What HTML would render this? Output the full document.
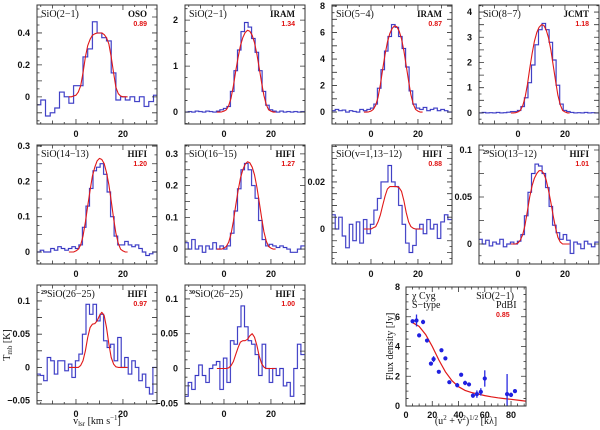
<!DOCTYPE html>
<html><head><meta charset="utf-8">
<style>
html,body{margin:0;padding:0;background:#fff;}
svg{display:block;font-family:"Liberation Sans",sans-serif;}
.tk{font-size:9px;font-weight:bold;fill:#111;}
.lab{font-size:10px;fill:#111;font-family:"Liberation Serif",serif;}
.tel{font-size:9px;fill:#111;font-family:"Liberation Serif",serif;font-weight:bold;}
.red{font-size:7px;fill:#e01010;font-weight:bold;}
</style></head>
<body>
<svg id="fig" width="600" height="430" viewBox="0 0 600 430" xmlns="http://www.w3.org/2000/svg"></svg>
<script>
// ---- data ----
const fitVel = [-3,-2,-1,0,1,2,3,4,5,6,7,8,9,10,11,12,13,14,15,16,17,18,19,20,21,22];
const p1Vals = [-0.05,-0.02,-0.12,-0.1,-0.07,0.03,0.0,-0.04,0.07,0.07,0.25,0.3,0.47,0.4,0.37,0.35,0.15,-0.02,0.0,-0.02,0.0,-0.03,0.0,-0.06,-0.03,0.01];
const p2Vals = [0.0,0.01,0.0,0.02,0.01,0.0,0.02,0.01,0.0,0.02,0.05,0.08,0.12,0.45,0.9,1.35,1.75,1.95,1.85,1.6,1.3,0.9,0.45,0.15,0.05,0.02,0.0,0.02,0.0,0.01,0.0,0.01,0.0,0.01];
const p3Vals = [0.1,0.2,0.1,0.15,0.0,0.1,0.05,0.0,0.2,0.1,0.2,0.3,0.6,1.8,3.2,4.6,5.7,6.6,6.4,5.7,4.8,3.4,1.6,0.6,0.3,0.2,0.35,0.1,0.2,0.3,0.1,0.2,0.1,0.0];
const p4Vals = [0.0,0.02,0.0,0.01,0.0,0.02,0.0,0.01,0.03,0.05,0.05,0.1,0.25,0.6,1.2,1.9,2.7,3.3,3.55,3.3,2.8,2.1,1.1,0.35,0.1,0.05,0.02,0.0,0.01,0.0,0.02,0.0,0.01,0.0];
const p5Vals = [0.0,0.005,0.0,0.0,0.01,0.005,0.015,0.01,0.005,0.01,0.015,0.01,0.02,0.07,0.13,0.18,0.23,0.24,0.25,0.22,0.17,0.1,0.045,0.02,0.02,0.03,0.02,0.015,0.02,0.01,0.0,-0.01,-0.005,0.0];
const p6Vals = [0.02,0.0,0.03,0.0,0.01,-0.01,0.01,0.0,0.02,0.0,0.01,0.0,0.01,0.05,0.12,0.19,0.25,0.27,0.25,0.2,0.16,0.09,0.03,0.01,0.015,0.01,0.005,0.01,0.005,0.0,-0.01,-0.01,0.0,0.01];
const p7Vals = [0.006,0.0,0.005,-0.003,-0.008,0.002,-0.005,0.003,-0.006,0.004,-0.002,0.002,0.008,0.013,0.02,0.02,0.027,0.02,0.018,0.01,0.002,-0.006,-0.01,-0.007,0.0,0.002,-0.002,0.004,0.0,0.002,-0.004,0.003,0.006,0.004];
const p8Vals = [0.005,0.0,0.004,-0.002,0.002,0.0,0.005,-0.003,0.0,0.002,0.0,0.003,0.01,0.03,0.055,0.075,0.085,0.083,0.075,0.06,0.04,0.02,0.012,0.005,0.01,0.004,-0.01,0.002,0.0,-0.005,0.003,0.0,-0.003,0.002];
const p9Vals = [-0.01,-0.012,-0.02,0.015,0.01,-0.01,0.01,0.01,-0.005,0.005,-0.015,0.01,0.02,0.05,0.095,0.08,0.095,0.07,0.08,0.04,0.03,0.035,0.01,0.045,0.0,0.015,-0.01,0.01,0.0,-0.02,-0.01,-0.03,-0.04,0.0];
const p10Vals = [-0.04,-0.02,-0.03,-0.01,0.005,-0.01,-0.02,0.0,0.005,0.01,-0.03,0.015,-0.02,0.04,0.035,0.06,0.09,0.06,0.04,0.035,0.02,-0.01,0.035,0.0,-0.02,0.0,-0.01,0.0,-0.025,-0.02,-0.04,0.0,0.035,0.02];
const p1Fit = [0,0,0.005,0.01,0.03,0.07,0.15,0.25,0.32,0.36,0.385,0.395,0.4,0.4,0.4,0.39,0.37,0.33,0.25,0.15,0.06,0.02,0.005,0,0,0];
const p2Fit = [0,0,0.004,0.02,0.05,0.14,0.3,0.57,0.89,1.19,1.44,1.62,1.73,1.78,1.76,1.67,1.51,1.26,0.96,0.64,0.36,0.16,0.05,0.02,0,0];
const p3Fit = [0,0,0.01,0.07,0.2,0.52,1.1,2.08,3.25,4.36,5.27,5.92,6.31,6.5,6.44,6.11,5.53,4.62,3.51,2.34,1.3,0.59,0.2,0.07,0,0];
const p4Fit = [0,0,0.01,0.04,0.1,0.28,0.6,1.12,1.75,2.35,2.84,3.19,3.4,3.5,3.47,3.29,2.98,2.49,1.89,1.26,0.7,0.32,0.1,0.04,0,0];
const p5Fit = [0,0,0,0.003,0.008,0.02,0.045,0.085,0.13,0.175,0.215,0.24,0.258,0.265,0.262,0.25,0.225,0.19,0.145,0.095,0.053,0.024,0.008,0.003,0,0];
const p6Fit = [0,0,0,0.003,0.008,0.022,0.047,0.088,0.137,0.184,0.223,0.25,0.267,0.275,0.272,0.258,0.234,0.195,0.149,0.099,0.055,0.025,0.008,0.003,0,0];
const p7Fit = [0,0,0,0,0.0005,0.001,0.003,0.006,0.01,0.014,0.017,0.018,0.018,0.018,0.018,0.0175,0.016,0.012,0.007,0.003,0.001,0.0003,0,0,0,0];
const p8Fit = [0,0,0,0.001,0.004,0.01,0.02,0.035,0.05,0.062,0.07,0.075,0.078,0.078,0.075,0.068,0.057,0.044,0.03,0.017,0.007,0.002,0,0,0,0];
const p9Fit = [0,0,0,0,0,0.003,0.01,0.025,0.045,0.06,0.065,0.066,0.07,0.078,0.083,0.078,0.06,0.035,0.015,0.005,0.001,0,0,0,0,0];
const p10Fit = [0,0,0,0,0,0.001,0.004,0.01,0.02,0.03,0.038,0.04,0.04,0.042,0.047,0.05,0.045,0.033,0.018,0.007,0.002,0,0,0,0,0];
const visU = [5,8,10,13,16,19,21,25,27,30,33,39,42,45,48,51,54,57,60,77,80,83];
const visFlux = [5.7,5.75,4.75,5.65,4.4,2.85,3.15,2.3,3.75,3.2,1.6,1.4,2.1,1.55,1.45,0.7,0.8,0.95,1.85,0.8,0.75,1.0];
const visErr = [0.1,0.4,0.1,0.15,0.1,0.1,0.2,0.1,0.1,0.1,0.1,0.15,0.1,0.15,0.1,0.15,0.25,0.25,0.55,1.35,0.15,0.1];
const visFitU = [5,10,15,20,25,30,35,40,45,50,55,60,65,70,75,80,85,91];
const visFitF = [5.6,5.35,4.8,4.0,3.1,2.3,1.7,1.3,1.05,0.9,0.8,0.7,0.62,0.55,0.5,0.45,0.4,0.33];
const yTicks1 = ["0","0.2","0.4"], yTicks2 = ["0","1","2"], yTicks3 = ["0","2","4","6","8"], yTicks4 = ["0","1","2","3","4"];
const yTicks5 = ["0","0.1","0.2","0.3"], yTicks7 = ["0","0.02"], yTicks8 = ["0","0.05","0.1"], yTicks9 = ["-0.05","0","0.05","0.1"];
const xTicks = ["0","20"], visXTicks = ["0","20","40","60","80"], visYTicks = ["0","2","4","6","8"];

const NS = "http://www.w3.org/2000/svg";
const svg = document.getElementById('fig');
function mk(tag, attrs, parent){const e=document.createElementNS(NS,tag);for(const k in attrs)e.setAttribute(k,attrs[k]);(parent||svg).appendChild(e);return e;}

const panels = [
 {id:'sio-2-1-oso',x:37,y:5,ymin:-0.17,ymax:0.575,step:0.05,minor:0.1,ticks:yTicks1,v0:-16,dv:2,vals:p1Vals,fit:p1Fit,name:'SiO(2\u22121)',tel:'OSO',num:'0.89'},
 {id:'sio-2-1-iram',x:185,y:5,ymin:-0.26,ymax:2.33,step:0.25,minor:0.5,ticks:yTicks2,v0:-16,dv:1.5,vals:p2Vals,fit:p2Fit,name:'SiO(2\u22121)',tel:'IRAM',num:'1.34'},
 {id:'sio-5-4',x:332,y:5,ymin:-0.9,ymax:8.08,step:0.5,minor:1,ticks:yTicks3,v0:-16,dv:1.5,vals:p3Vals,fit:p3Fit,name:'SiO(5\u22124)',tel:'IRAM',num:'0.87'},
 {id:'sio-8-7',x:479,y:5,ymin:-0.44,ymax:4.28,step:0.25,minor:0.5,ticks:yTicks4,v0:-16,dv:1.5,vals:p4Vals,fit:p4Fit,name:'SiO(8\u22127)',tel:'JCMT',num:'1.18'},
 {id:'sio-14-13',x:37,y:145,ymin:-0.034,ymax:0.303,step:0.025,minor:0.05,ticks:yTicks5,v0:-16,dv:1.5,vals:p5Vals,fit:p5Fit,name:'SiO(14\u221213)',tel:'HIFI',num:'1.20'},
 {id:'sio-16-15',x:185,y:145,ymin:-0.047,ymax:0.328,step:0.025,minor:0.05,ticks:yTicks5,v0:-16,dv:1.5,vals:p6Vals,fit:p6Fit,name:'SiO(16\u221215)',tel:'HIFI',num:'1.27'},
 {id:'sio-v1-13-12',x:332,y:145,ymin:-0.0149,ymax:0.0357,step:0.0025,minor:0.005,ticks:yTicks7,v0:-16,dv:1.5,vals:p7Vals,fit:p7Fit,name:'SiO(v=1,13\u221212)',tel:'HIFI',num:'0.88'},
 {id:'29sio-13-12',x:479,y:145,ymin:-0.0213,ymax:0.1053,step:0.0125,minor:0.025,ticks:yTicks8,v0:-16,dv:1.5,vals:p8Vals,fit:p8Fit,name:'SiO(13\u221212)',sup:'29',tel:'HIFI',num:'1.01'},
 {id:'29sio-26-25',x:37,y:285,ymin:-0.055,ymax:0.124,step:0.0125,minor:0.025,ticks:yTicks9,v0:-16,dv:1.5,vals:p9Vals,fit:p9Fit,name:'SiO(26\u221225)',sup:'29',tel:'HIFI',num:'0.97'},
 {id:'30sio-26-25',x:185,y:285,ymin:-0.051,ymax:0.12,step:0.0125,minor:0.025,ticks:yTicks9,v0:-16,dv:1.5,vals:p10Vals,fit:p10Fit,name:'SiO(26\u221225)',sup:'30',tel:'HIFI',num:'1.00'}
];
const W=120,H=119,VMIN=-16.6,VMAX=34.5;

panels.forEach(p=>{
  const g = mk('g',{});
  
  
  const sx = v => p.x + (v-VMIN)/(VMAX-VMIN)*W;
  const sy = t => p.y + H - (t-p.ymin)/(p.ymax-p.ymin)*H;
  const clip = mk('clipPath',{id:'c-'+p.id},g);
  mk('rect',{x:p.x,y:p.y,width:W,height:H},clip);
  let d='';
  p.vals.forEach((t,i)=>{const c=p.v0+i*p.dv;const a=sx(c-p.dv/2),b=sx(c+p.dv/2),yy=sy(t);d+=(i?'L':'M')+a.toFixed(1)+','+yy.toFixed(1)+'L'+b.toFixed(1)+','+yy.toFixed(1);});
  const hl = mk('path',{d:d,fill:'none',stroke:'#b4b4f0','stroke-width':1.5,'clip-path':'url(#c-'+p.id+')'},g);
  
  
  const h = mk('path',{d:d,fill:'none',stroke:'#3535c0','stroke-width':0.9,'clip-path':'url(#c-'+p.id+')'},g);
  
  
  const fd = p.fit.map((t,i)=>(i?'L':'M')+sx(fitVel[i]).toFixed(1)+','+sy(t).toFixed(1)).join('');
  const f = mk('path',{d:fd,fill:'none',stroke:'#e01818','stroke-width':1.1,'stroke-linejoin':'round'},g);
  
  
  const fr = mk('rect',{x:p.x,y:p.y,width:W,height:H,fill:'none',stroke:'#333','stroke-width':1},g);
  
  
  let td='';
  for(let v=-15;v<=34;v+=5){const X=sx(v);const L=(v%20===0)?5:(v%10===0?3.5:2);td+=`M${X},${p.y+H}v${-L}M${X},${p.y}v${L}`;}
  const k0=Math.ceil(p.ymin/p.step-1e-6),k1=Math.floor(p.ymax/p.step+1e-6);
  for(let k=k0;k<=k1;k++){const t=k*p.step;const Y=sy(t);const maj=Math.abs(t/p.minor-Math.round(t/p.minor))<1e-6;const L=maj?5:2.5;td+=`M${p.x},${Y}h${L}M${p.x+W},${Y}h${-L}`;}
  mk('path',{d:td,stroke:'#333','stroke-width':0.8,fill:'none'},g);
  xTicks.forEach(s=>{const t=mk('text',{x:sx(+s),y:p.y+H+13,'text-anchor':'middle',class:'tk'},g);t.textContent=s;
    });
  p.ticks.forEach(s=>{const v=+s;if(v<p.ymin||v>p.ymax)return;const t=mk('text',{x:p.x-7,y:sy(v)+3,'text-anchor':'end',class:'tk'},g);t.textContent=s.replace('-','\u2212');
    });
  const nm = mk('text',{x:p.x+4,y:p.y+12,class:'lab'},g);
  if(p.sup){const ts=mk('tspan',{'font-size':'6','dy':'-3','font-weight':'bold'},nm);ts.textContent=p.sup;const t2=mk('tspan',{dy:'3'},nm);t2.textContent=p.name;}
  else nm.textContent=p.name;
  
  
  const tl = mk('text',{x:p.x+W-10,y:p.y+12,'text-anchor':'end',class:'tel'},g);tl.textContent=p.tel;
  
  
  const rn = mk('text',{x:p.x+W-10,y:p.y+21,'text-anchor':'end',class:'red'},g);rn.textContent=p.num;
  
  
});

const yt = mk('text',{x:10,y:345,transform:'rotate(-90 10 345)','text-anchor':'middle',class:'lab'});
yt.innerHTML='T<tspan font-size="7" dy="2">mb</tspan><tspan dy="-2"> [K]</tspan>';


const xt = mk('text',{x:97,y:424,'text-anchor':'middle',class:'lab'});
xt.innerHTML='v<tspan font-size="7" dy="2">lsr</tspan><tspan dy="-2"> [km s</tspan><tspan font-size="7" dy="-4">\u22121</tspan><tspan dy="4">]</tspan>';



(function(){
  const X0=406,Y0=287,VW=120,VH=119,UMAX=91.4,FMAX=8;
  const g = mk('g',{});
  
  
  const sx=u=>X0+u/UMAX*VW, sy=f=>Y0+VH-f/FMAX*VH;
  const clip=mk('clipPath',{id:'cvis'},g);mk('rect',{x:X0,y:Y0,width:VW,height:VH},clip);
  const fd=visFitU.map((u,i)=>(i?'L':'M')+sx(u).toFixed(1)+','+sy(visFitF[i]).toFixed(1)).join('');
  const f=mk('path',{d:fd,fill:'none',stroke:'#e01818','stroke-width':1.2},g);
  
  
  visU.forEach((u,i)=>{
    const e=mk('line',{x1:sx(u),x2:sx(u),y1:sy(visFlux[i]-visErr[i]),y2:sy(visFlux[i]+visErr[i]),stroke:'#2a2ae0','stroke-width':1.3,'clip-path':'url(#cvis)'},g);
    
    
    const c=mk('circle',{cx:sx(u),cy:sy(visFlux[i]),r:2.1,fill:'#2020e0'},g);
    
    
  });
  mk('rect',{x:X0,y:Y0,width:VW,height:VH,fill:'none',stroke:'#333','stroke-width':1},g);
  let td='';
  for(let u=0;u<=90;u+=5){const X=sx(u);const L=u%20===0?5:2.5;td+=`M${X},${Y0+VH}v${-L}M${X},${Y0}v${L}`;}
  for(let f=0;f<=8;f+=0.5){const Y=sy(f);const L=f%2===0?5:2.5;td+=`M${X0},${Y}h${L}M${X0+VW},${Y}h${-L}`;}
  mk('path',{d:td,stroke:'#333','stroke-width':0.8,fill:'none'},g);
  visXTicks.forEach(s=>{const t=mk('text',{x:sx(+s),y:Y0+VH+12,'text-anchor':'middle',class:'tk'},g);t.textContent=s;
    });
  visYTicks.forEach(s=>{const t=mk('text',{x:X0-6,y:sy(+s)+3,'text-anchor':'end',class:'tk'},g);t.textContent=s;
    });
  const lines=[['\u03C7 Cyg',X0+6,Y0+12,'start'],['S\u2212type',X0+6,Y0+21,'start'],['SiO(2\u22121)',X0+VW-12,Y0+12,'end'],['PdBI',X0+VW-30,Y0+21,'start']];
  lines.forEach(l=>{const t=mk('text',{x:l[1],y:l[2],'text-anchor':l[3],class:'lab'},g);t.textContent=l[0];
    });
  const rn=mk('text',{x:X0+VW-30,y:Y0+30,class:'red'},g);rn.textContent='0.85';
  
  
  const yt=mk('text',{x:393,y:Y0+VH/2,transform:`rotate(-90 393 ${Y0+VH/2})`,'text-anchor':'middle',class:'lab','font-size':'9'},g);
  yt.textContent='Flux density [Jy]';
  
  
  const xt=mk('text',{x:X0+VW/2,y:424,'text-anchor':'middle',class:'lab'},g);
  xt.innerHTML='(u<tspan font-size="7" dy="-4">2</tspan><tspan dy="4"> + v</tspan><tspan font-size="7" dy="-4">2</tspan><tspan dy="4">)</tspan><tspan font-size="7" dy="-4">1/2</tspan><tspan dy="4"> [k\u03BB]</tspan>';
  
  
})();
</script>
</body></html>
